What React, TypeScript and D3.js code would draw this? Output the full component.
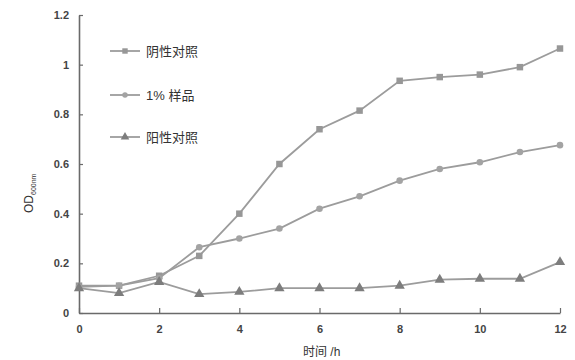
import React, { useEffect, useRef } from 'react';
import * as d3 from 'd3';

const hours = [0, 1, 2, 3, 4, 5, 6, 7, 8, 9, 10, 11, 12];
const negative = [0.11, 0.11, 0.15, 0.23, 0.4, 0.6, 0.74, 0.815, 0.935, 0.95, 0.96, 0.99, 1.065];
const sample = [0.105, 0.11, 0.14, 0.265, 0.3, 0.34, 0.42, 0.47, 0.533, 0.58, 0.607, 0.648, 0.676];
const positive = [0.1, 0.08, 0.125, 0.076, 0.085, 0.1, 0.1, 0.1, 0.11, 0.134, 0.138, 0.138, 0.205];
const xTicks = [0, 2, 4, 6, 8, 10, 12];
const yTicks = [0, 0.2, 0.4, 0.6, 0.8, 1, 1.2];
const seriesNames = ['阴性对照', '1% 样品', '阳性对照'];

const App = () => {
  const svgRef = useRef<SVGSVGElement>(null);

  useEffect(() => {
    const width = 575;
    const height = 360;
    const margin = { top: 15, right: 15, bottom: 47, left: 79 };
    const svg = d3.select(svgRef.current);
    svg.selectAll('*').remove();

    const x = d3.scaleLinear().domain([0, 12]).range([margin.left, width - margin.right]);
    const y = d3.scaleLinear().domain([0, 1.2]).range([height - margin.bottom, margin.top]);

    const axisColor = '#6a6a6a';
    const font = 'Arial, "Liberation Sans", "Noto Sans CJK SC", sans-serif';

    // x axis, ticks point inward
    const gx = svg.append('g')
      .attr('transform', `translate(0,${y(0)})`)
      .call(d3.axisBottom(x).tickValues(xTicks).tickSize(-5).tickSizeOuter(0).tickPadding(12).tickFormat(d3.format('d')));
    gx.select('.domain').attr('stroke', axisColor).attr('stroke-width', 1.6);
    gx.selectAll('.tick line').attr('stroke', axisColor).attr('stroke-width', 1.2);
    gx.selectAll('.tick text')
      .attr('fill', '#444').attr('font-size', 11).attr('font-weight', 'bold').attr('font-family', font);

    // y axis
    const gy = svg.append('g')
      .attr('transform', `translate(${x(0)},0)`)
      .call(d3.axisLeft(y).tickValues(yTicks).tickSize(-4).tickSizeOuter(0).tickPadding(10).tickFormat(d => String(d)));
    gy.select('.domain').attr('stroke', axisColor).attr('stroke-width', 1.6);
    gy.selectAll('.tick line').attr('stroke', axisColor).attr('stroke-width', 1.2);
    gy.selectAll('.tick text')
      .attr('fill', '#444').attr('font-size', 11).attr('font-weight', 'bold').attr('font-family', font);

    const lineColor = '#9c9c9c';
    const allSeries = [
      { values: negative, symbol: d3.symbolSquare, size: 42, fill: '#979797' },
      { values: sample, symbol: d3.symbolCircle, size: 34, fill: '#a3a3a3' },
      { values: positive, symbol: d3.symbolTriangle, size: 46, fill: '#7d7d7d' },
    ];

    const line = d3.line<number>()
      .x((_, i) => x(hours[i]))
      .y(d => y(d));

    allSeries.forEach(s => {
      svg.append('path')
        .attr('d', line(s.values))
        .attr('fill', 'none')
        .attr('stroke', lineColor)
        .attr('stroke-width', 1.8);
      svg.append('g').selectAll('path')
        .data(s.values)
        .enter()
        .append('path')
        .attr('transform', (d, i) => `translate(${x(hours[i])},${y(d)})`)
        .attr('d', d3.symbol().type(s.symbol).size(s.size)())
        .attr('fill', s.fill);
    });

    // legend
    const legendY = [51, 95, 137];
    allSeries.forEach((s, i) => {
      const g = svg.append('g').attr('transform', `translate(110,${legendY[i]})`);
      g.append('line').attr('x1', 0).attr('x2', 30).attr('stroke', lineColor).attr('stroke-width', 1.8);
      g.append('path')
        .attr('transform', 'translate(15,0)')
        .attr('d', d3.symbol().type(s.symbol).size(s.size * 0.7)())
        .attr('fill', s.fill);
      g.append('text')
        .attr('x', 36).attr('dy', '0.35em')
        .attr('font-size', 13).attr('fill', '#333').attr('font-family', font)
        .text(seriesNames[i]);
    });

    // axis titles
    svg.append('text')
      .attr('x', 303).attr('y', 356)
      .attr('font-size', 12).attr('fill', '#333').attr('font-family', font)
      .text('时间 /h');

    const yl = svg.append('text')
      .attr('transform', 'translate(33,213) rotate(-90)')
      .attr('font-size', 12).attr('fill', '#333').attr('font-family', font);
    yl.append('tspan').text('OD');
    yl.append('tspan').attr('font-size', 7).attr('dy', 3).text('600nm');
  }, []);

  return (
    <svg
      ref={svgRef}
      width={575}
      height={360}
      style={{ position: 'absolute', left: 0, top: 0, background: '#fff' }}
    />
  );
};

export default App;
